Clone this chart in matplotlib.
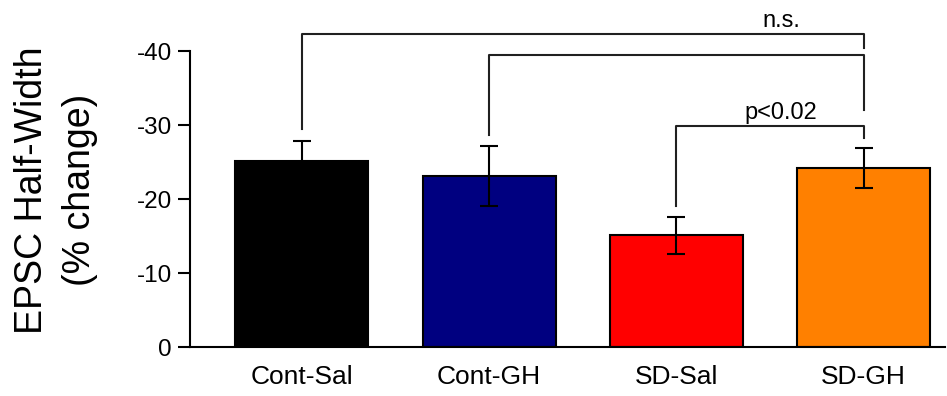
import numpy as np
import matplotlib.pyplot as plt

plt.rcParams['font.family'] = ['Liberation Sans', 'DejaVu Sans']

# group means (% change) and SEM
groups = ['Cont-Sal', 'Cont-GH', 'SD-Sal', 'SD-GH']
means = [-25.1, -23.1, -15.1, -24.2]
sems = [2.8, 4.0, 2.5, 2.75]
colors = ['#000000', '#000080', '#ff0000', '#ff8000']

# significance brackets: (left group, right group, bracket level, label)
brackets = [
    (0, 3, -42.3, 'n.s.'),
    (1, 3, -39.5, ''),
    (2, 3, -29.9, 'p<0.02'),
]
# how far the right leg of each bracket drops below its top
right_leg_drop = [1.9, 7.5, 1.7]
leg_gap = 1.5
label_x = 2.56

fig = plt.figure(figsize=(9.47, 3.96), dpi=100)
ax = fig.add_axes([0.2006, 0.1237, 0.797, 0.7475])

x = np.arange(len(groups))
ax.bar(x, means, width=0.71, color=colors, edgecolor='black', linewidth=1.5, zorder=2)
ax.errorbar(x, means, yerr=sems, fmt='none', ecolor='black', elinewidth=1.5,
            capsize=6.5, capthick=1.5, zorder=3)

for (i, j, level, label), drop in zip(brackets, right_leg_drop):
    left_end = means[i] - sems[i] - leg_gap
    right_end = level + drop
    ax.plot([x[i], x[i], x[j], x[j]], [left_end, level, level, right_end],
            color='#202020', lw=1.5, clip_on=False, zorder=4)
    if label:
        ax.text(label_x, level - 0.9, label,
                ha='center', va='baseline', fontsize=17, clip_on=False)

ax.set_xlim(-0.598, 3.433)
ax.set_ylim(0, -40)
ax.set_yticks([0, -10, -20, -30, -40])
ax.set_yticklabels(['0', '-10', '-20', '-30', '-40'])
ax.set_xticks(x)
ax.set_xticklabels(groups, fontsize=19)

ax.spines['top'].set_visible(False)
ax.spines['right'].set_visible(False)
ax.spines['left'].set_linewidth(1.5)
ax.spines['bottom'].set_linewidth(1.5)
ax.tick_params(axis='y', length=9, width=1.5, labelsize=17.5, pad=4)
ax.tick_params(axis='x', length=0, pad=13)

fig.text(56 / 947, 1 - 190 / 396, 'EPSC Half-Width\n(% change)', rotation=90,
         ha='center', va='center', multialignment='center', fontsize=27,
         linespacing=1.4)

fig.savefig('out.png', dpi=100)
